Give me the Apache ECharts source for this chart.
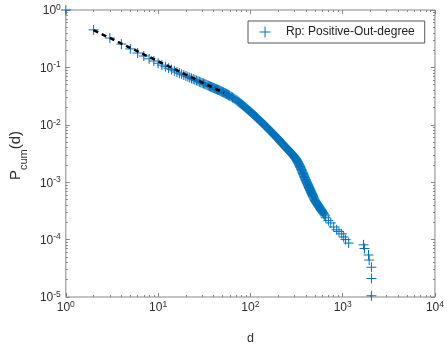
<!DOCTYPE html>
<html>
<head>
<meta charset="utf-8">
<script src="https://cdn.jsdelivr.net/npm/echarts@6/dist/echarts.min.js"></script>
<style>html,body{margin:0;padding:0;background:#fff}#c{width:447px;height:350px}</style>
</head>
<body>
<div id="c"></div>
<script>
const seriesName = 'Rp: Positive-Out-degree';
const degrees = [
  1,2,3,4,5,6,7,8,9,10,11,12,13,14,15,16,17,18,19,20,
  21,22,23,24,25,26,27,28,29,30,31,32,33,34,35,36,37,38,39,40,
  41,42,43,44,45,46,47,48,49,50,51,52,53,54,55,56,57,58,59,60,
  62,64,66,68,70,72,74,76,78,80,82,84,86,88,90,92,94,96,98,100,
  102,104,106,108,110,112,114,116,118,120,
  123,126,129,132,135,138,141,144,147,150,153,156,159,162,165,168,171,174,177,180,183,186,189,192,195,198,201,204,
  207,210,213,216,219,222,225,228,231,234,237,240,243,246,249,252,255,258,261,264,
  267,270,273,276,279,282,285,288,291,294,297,300,303,306,309,312,315,318,321,
  324,327,330,333,336,339,342,345,348,351,354,357,360,363,366,369,372,375,378,381,384,387,390,393,396,
  399,402,405,408,411,414,417,420,423,426,429,432,435,438,441,444,447,450,453,456,459,462,465,468,471,474,477,480,
  485,490,495,500,505,510,515,520,525,530,535,540,545,550,555,560,565,570,575,580,585,590,595,600,
  610,620,632,644,
  656,700,743,800,861,912,975,1026,1076,1161,
  1683,1725,1905,1937,2050,2050,2050
];
const pcum = [
  1,0.45,0.325,0.255,0.21,0.178,0.158,0.141,0.129,0.118,0.1096,0.1028,0.0968,0.0916,0.0871,0.083,0.0794,0.0763,0.0735,0.0709,
  0.0686,0.0664,0.0644,0.0626,0.0608,0.0592,0.0577,0.0562,0.0549,0.0536,0.0524,0.0513,0.0502,0.0491,0.0482,0.0472,0.0463,0.0455,0.0447,0.0439,
  0.0431,0.0424,0.0417,0.0411,0.0404,0.0398,0.0392,0.0385,0.0379,0.0373,0.0367,0.0361,0.0356,0.0350,0.0345,0.0340,0.0334,0.0329,0.0324,0.0318,
  0.0309,0.0299,0.0291,0.0281,0.0271,0.0262,0.0253,0.0244,0.0236,0.0229,0.0222,0.0215,0.0208,0.0202,0.0195,0.0189,0.0184,0.0178,0.0173,0.0168,
  0.0164,0.0159,0.0155,0.0151,0.0147,0.0143,0.0139,0.0136,0.0132,0.0129,
  0.0124,0.0119,0.0115,0.0111,0.0107,0.0104,0.01005,0.00973,0.00942,0.00912,0.00883,0.00855,0.00828,0.00803,0.00779,0.00756,0.00734,0.00713,0.00693,0.00674,0.00656,0.00639,0.00622,0.00606,0.00591,0.00576,0.00562,0.00548,
  0.00528,0.00516,0.00503,0.00491,0.00480,0.00468,0.00458,0.00448,0.00437,0.00428,0.00419,0.00410,0.00401,0.00393,0.00384,0.00376,0.00369,0.00362,0.00354,0.00347,
  0.00341,0.00334,0.00328,0.00322,0.00316,0.00310,0.00304,0.00299,0.00294,0.00288,0.00282,0.00276,0.00271,0.00265,0.00259,0.00253,0.00247,0.00240,0.00234,
  0.00229,0.00223,0.00217,0.00211,0.00205,0.00199,0.00193,0.00188,0.00182,0.00177,0.00171,0.00166,0.00161,0.00156,0.00151,0.00146,0.00142,0.00137,0.00133,0.00129,0.00125,0.00121,0.00118,0.00114,0.00111,
  0.00108,0.00105,0.00102,0.000995,0.000970,0.000944,0.000920,0.000897,0.000874,0.000852,0.000830,0.000809,0.000790,0.000770,0.000752,0.000733,0.000716,0.000699,0.000682,0.000666,0.000651,0.000636,0.000620,0.000607,0.000593,0.000579,0.000566,0.000554,
  0.000533,0.000514,0.000495,0.000482,0.000470,0.000459,0.000448,0.000438,0.000427,0.000417,0.000408,0.000399,0.000390,0.000381,0.000373,0.000365,0.000357,0.000349,0.000342,0.000335,0.000328,0.000321,0.000315,0.000308,
  0.000296,0.000284,0.000271,0.000259,
  0.000240,0.000214,0.000195,0.000166,0.000148,0.000138,0.000126,0.000111,0.000100,0.000087,
  0.000081,0.000070,0.000054,0.000044,0.000033,0.000021,0.0000105
];
const fitD = [2, 52];
const fitP = [0.445, 0.0358];
const xMajor = [1, 10, 100, 1000, 10000];
const yMajor = [1e-5, 1e-4, 1e-3, 1e-2, 1e-1, 1];
const xMinor = [2,3,4,5,6,7,8,9,20,30,40,50,60,70,80,90,200,300,400,500,600,700,800,900,2000,3000,4000,5000,6000,7000,8000,9000];
const yMinor = [2e-5,3e-5,4e-5,5e-5,6e-5,7e-5,8e-5,9e-5,2e-4,3e-4,4e-4,5e-4,6e-4,7e-4,8e-4,9e-4,2e-3,3e-3,4e-3,5e-3,6e-3,7e-3,8e-3,9e-3,0.02,0.03,0.04,0.05,0.06,0.07,0.08,0.09,0.2,0.3,0.4,0.5,0.6,0.7,0.8,0.9];

const axisCol = '#868686';
const labCol = '#303030';
const font = 'Liberation Sans, Arial, Helvetica, sans-serif';
const richPow = {
  b: {fontSize: 12, fontFamily: font, color: labCol, lineHeight: 14, verticalAlign: 'bottom'},
  s: {fontSize: 8.5, fontFamily: font, color: labCol, lineHeight: 9, verticalAlign: 'top'}
};
function powFmt(v) {
  const e = Math.round(Math.log10(v));
  return '{b|10}{s|' + e + '}';
}

function mkAxis(kind, pos, majors, minors, isMain, extra) {
  const base = {
    type: 'log', logBase: 10, position: pos,
    min: majors[0], max: majors[majors.length - 1],
    axisLine: {show: false},
    splitLine: {show: false},
    minorTick: {show: false}
  };
  const list = [];
  list.push(Object.assign({}, base, {
    axisTick: {show: true, inside: true, length: 4, lineStyle: {color: axisCol, width: 1}, customValues: majors},
    axisLabel: isMain ? {show: true, customValues: majors, formatter: powFmt, rich: richPow, margin: kind === 'x' ? 3 : 5} : {show: false}
  }, isMain ? extra : {}));
  list.push(Object.assign({}, base, {
    axisTick: {show: true, inside: true, length: 2, lineStyle: {color: axisCol, width: 1}, customValues: minors},
    axisLabel: {show: false}
  }));
  return list;
}

const xAxes = mkAxis('x', 'bottom', xMajor, xMinor, true, {
  name: 'd', nameLocation: 'middle', nameGap: 35,
  nameTextStyle: {fontSize: 12.5, fontFamily: font, color: labCol}
}).concat(mkAxis('x', 'top', xMajor, xMinor, false));
const yAxes = mkAxis('y', 'left', yMajor, yMinor, true, {
  name: '{a|P}{c|cum}{a|(d)}', nameLocation: 'middle', nameGap: 25, nameRotate: 90,
  nameTextStyle: {
    padding: [0, 4, 0, 0],
    rich: {
      a: {fontSize: 15, fontFamily: font, color: labCol, lineHeight: 18, verticalAlign: 'top'},
      c: {fontSize: 11, fontFamily: font, color: labCol, lineHeight: 11, verticalAlign: 'bottom', padding:[0,0,-3,0]}
    }
  }
}).concat(mkAxis('y', 'right', yMajor, yMinor, false));

const scatterData = degrees.map((d, i) => [d, pcum[i]]);
const fitData = fitD.map((d, i) => [d, fitP[i]]);

const chart = echarts.init(document.getElementById('c'), null, {renderer: 'canvas'});
chart.setOption({
  animation: false,
  backgroundColor: '#fff',
  grid: {left: 65, right: 10, top: 10, bottom: 53, show: true, borderColor: axisCol, borderWidth: 1, backgroundColor: 'transparent'},
  xAxis: xAxes,
  yAxis: yAxes,
  legend: {
    show: true, left: 248, top: 21, orient: 'horizontal',
    data: [seriesName],
    itemWidth: 32, itemHeight: 11,
    padding: [3, 10, 3, 9],
    borderColor: '#555', borderWidth: 1, backgroundColor: '#fff',
    textStyle: {fontSize: 12, fontFamily: font, color: '#222'},
    itemStyle: {color: 'none', borderColor: '#0072BD', borderWidth: 1}
  },
  series: [
    {
      name: seriesName, type: 'scatter', xAxisIndex: 0, yAxisIndex: 0,
      symbol: 'path://M0,5L10,5M5,0L5,10', symbolSize: 10,
      itemStyle: {color: 'none', borderColor: '#0072BD', borderWidth: 1, opacity: 1},
      emphasis: {disabled: true},
      data: scatterData, z: 2
    },
    {
      name: 'fit', type: 'line', xAxisIndex: 0, yAxisIndex: 0,
      showSymbol: false, symbol: 'none',
      lineStyle: {color: '#000', width: 2.5, type: [5, 4]},
      emphasis: {disabled: true},
      data: fitData, z: 3
    }
  ]
});
</script>
</body>
</html>
